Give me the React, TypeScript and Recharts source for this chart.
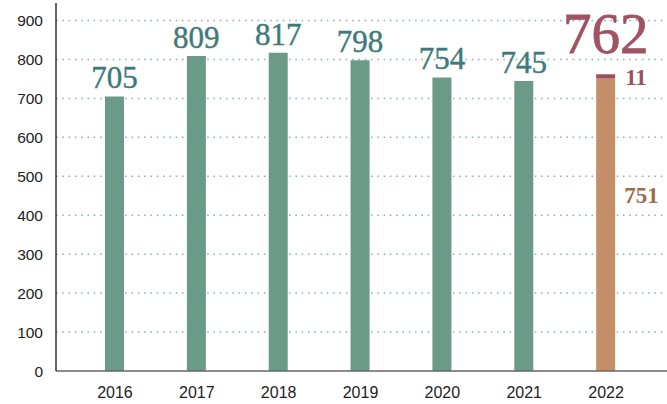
import { BarChart, Bar, XAxis, YAxis, CartesianGrid, LabelList } from 'recharts';

const years = ['2016', '2017', '2018', '2019', '2020', '2021', '2022'];
const totals = [705, 809, 817, 798, 754, 745, null];
const base2022 = [null, null, null, null, null, null, 751];
const extra2022 = [null, null, null, null, null, null, 11];
const yTicks = [0, 100, 200, 300, 400, 500, 600, 700, 800, 900];

const data = years.map((year, i) => ({
  year,
  total: totals[i],
  base: base2022[i],
  extra: extra2022[i],
  sum: base2022[i] != null ? (base2022[i] as number) + (extra2022[i] as number) : null,
}));

const serif = '"Liberation Serif", "Times New Roman", serif';
const sans = '"Liberation Sans", Arial, sans-serif';

const tickStyle = { fontSize: 15.5, fill: '#222', fontFamily: sans };

function BaseLabel(props: any) {
  const { x, y, width, height, value } = props;
  if (value == null) return null;
  return (
    <text
      x={x + width + 9}
      y={y + height * 0.4}
      dominantBaseline="central"
      fill="#a06c48"
      fontFamily={serif}
      fontWeight="bold"
      fontSize={23}
    >
      {value}
    </text>
  );
}

export default function App() {
  return (
    <div style={{ position: 'absolute', left: 0, top: 0, background: '#fff' }}>
      <BarChart
        width={667}
        height={404}
        data={data}
        margin={{ top: 3, right: 0, bottom: 0, left: 0 }}
      >
        <CartesianGrid
          vertical={false}
          stroke="#8daab8"
          strokeWidth={1.5}
          strokeDasharray="1.5 4.8"
          horizontalValues={yTicks.slice(1)}
        />
        <XAxis
          dataKey="year"
          padding={{ left: 18, right: 20 }}
          tickLine={false}
          axisLine={{ stroke: '#666', strokeWidth: 1.5 }}
          tick={{ ...tickStyle, fontSize: 16 }}
          tickMargin={10}
          height={33}
        />
        <YAxis
          width={56}
          domain={[0, 945]}
          ticks={yTicks}
          interval={0}
          tickLine={false}
          axisLine={{ stroke: '#333', strokeWidth: 1.5 }}
          tick={tickStyle}
          tickMargin={7}
        />
        <Bar dataKey="total" stackId="a" fill="#6b9a89" barSize={19} isAnimationActive={false}>
          <LabelList
            dataKey="total"
            position="top"
            offset={8}
            fill="#3e7a7b"
            stroke="#3e7a7b"
            strokeWidth={0.4}
            fontFamily={serif}
            fontSize={31}
          />
        </Bar>
        <Bar dataKey="base" stackId="a" fill="#c59069" barSize={20} isAnimationActive={false}>
          <LabelList dataKey="base" content={BaseLabel} />
        </Bar>
        <Bar dataKey="extra" stackId="a" fill="#9b5060" barSize={20} isAnimationActive={false}>
          <LabelList
            dataKey="extra"
            position="right"
            offset={10}
            fill="#9b5060"
            fontFamily={serif}
            fontWeight="bold"
            fontSize={23}
          />
          <LabelList
            dataKey="sum"
            position="top"
            offset={21}
            fill="#9e5462"
            stroke="#9e5462"
            strokeWidth={0.8}
            fontFamily={serif}
            fontSize={57}
          />
        </Bar>
      </BarChart>
    </div>
  );
}
